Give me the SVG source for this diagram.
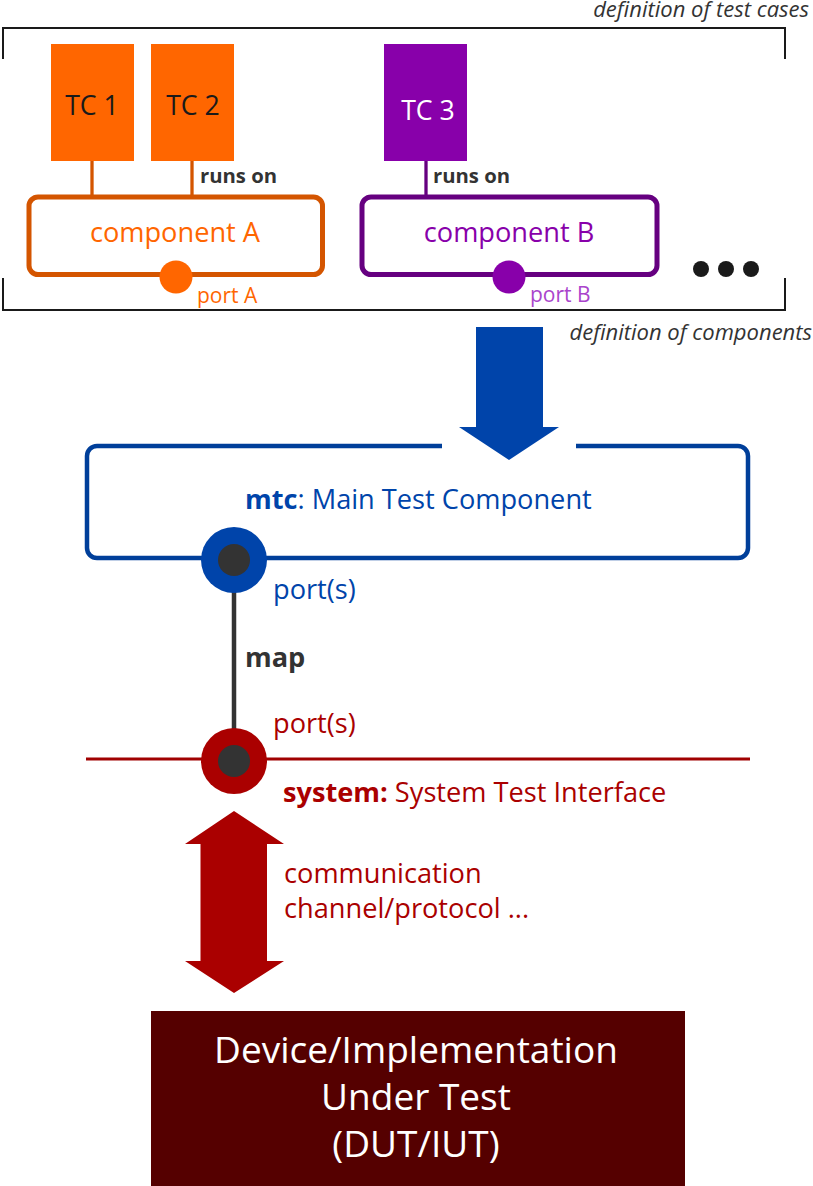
<svg xmlns="http://www.w3.org/2000/svg" width="813" height="1186" viewBox="0 0 813 1186">
<style>
text{font-family:"Open Sans","Noto Sans","DejaVu Sans",sans-serif}
.note{font-size:22px;font-style:italic;fill:#333;text-anchor:end}
.tc{font-size:26.7px;text-anchor:middle}
.lbl{font-size:27.2px}
.mid{text-anchor:middle}
.runs{font-size:20.3px;font-weight:bold;fill:#333}
.port{font-size:21px}
.b{font-weight:bold}
.bracket{fill:none;stroke:#1a1a1a;stroke-width:2}
</style>
<rect width="813" height="1186" fill="#fff"/>

<g id="brackets">
  <polyline class="bracket" points="3,59 3,28 785,28 785,59"/>
  <polyline class="bracket" points="3,278 3,310 785,310 785,278"/>
  <text class="note" x="809" y="17">definition of test cases</text>
  <text class="note" x="812" y="340">definition of components</text>
</g>

<g id="connectors">
  <line x1="92" y1="160" x2="92" y2="197" stroke="#d45500" stroke-width="3.3"/>
  <line x1="192" y1="160" x2="192" y2="197" stroke="#d45500" stroke-width="3.3"/>
  <line x1="426" y1="160" x2="426" y2="197" stroke="#660080" stroke-width="3.3"/>
  <text class="runs" x="200" y="183">runs on</text>
  <text class="runs" x="433" y="183">runs on</text>
  <polygon id="define-arrow" points="476,327 543,327 543,427 559,427 509,460 459,427 476,427" fill="#0044aa"/>
  <line x1="234" y1="560" x2="234" y2="761" stroke="#333" stroke-width="4.5"/>
  <text class="lbl b" x="245" y="667" fill="#333">map</text>
  <polygon id="comm-arrow" points="234,811 284,844 267,844 267,961 284,961 234,993 185,961 200.5,961 200.5,844 185,844" fill="#aa0000"/>
  <text class="lbl" x="284" y="883" fill="#aa0000">communication</text>
  <text class="lbl" x="284" y="918" fill="#aa0000">channel/protocol ...</text>
</g>

<g id="tc1">
  <rect x="51" y="44" width="83" height="117" fill="#ff6600"/>
  <text class="tc" x="92" y="115" fill="#1a1a1a">TC 1</text>
</g>
<g id="tc2">
  <rect x="151" y="44" width="83" height="117" fill="#ff6600"/>
  <text class="tc" x="193" y="115" fill="#1a1a1a">TC 2</text>
</g>
<g id="tc3">
  <rect x="384" y="44" width="83" height="117" fill="#8800aa"/>
  <text class="tc" x="428" y="120" fill="#fff">TC 3</text>
</g>

<g id="componentA">
  <rect x="29" y="197" width="293.5" height="77.5" rx="9" fill="#fff" stroke="#d45500" stroke-width="5"/>
  <text class="lbl mid" x="175" y="242" fill="#ff6600">component A</text>
  <circle cx="176" cy="277" r="16.5" fill="#ff6600"/>
  <text class="port" x="197" y="303" fill="#ff6600">port A</text>
</g>

<g id="componentB">
  <rect x="362" y="197" width="295" height="77.5" rx="9" fill="#fff" stroke="#660080" stroke-width="5"/>
  <text class="lbl mid" x="509" y="242" fill="#8800aa">component B</text>
  <circle cx="509" cy="277" r="16.5" fill="#8800aa"/>
  <text class="port" x="530" y="302" fill="#aa44cc">port B</text>
</g>

<g id="more">
  <circle cx="701" cy="269" r="8" fill="#1a1a1a"/>
  <circle cx="726" cy="269" r="8" fill="#1a1a1a"/>
  <circle cx="751" cy="269" r="8" fill="#1a1a1a"/>
</g>

<g id="mtc">
  <path d="M442,446 H97 A10,10 0 0 0 87,456 V548 A10,10 0 0 0 97,558 H738 A10,10 0 0 0 748,548 V456 A10,10 0 0 0 738,446 H576" fill="none" stroke="#003f9a" stroke-width="4.5"/>
  <text class="lbl" x="245" y="509" fill="#0044aa"><tspan class="b">mtc</tspan>: Main Test Component</text>
  <circle cx="234" cy="560" r="33" fill="#0044aa"/>
  <circle cx="234" cy="560" r="16" fill="#333"/>
  <text class="lbl" x="273" y="599" fill="#0044aa">port(s)</text>
</g>

<g id="system">
  <line x1="86" y1="759" x2="750" y2="759" stroke="#a00000" stroke-width="3"/>
  <circle cx="234" cy="761" r="33" fill="#aa0000"/>
  <circle cx="234" cy="761" r="16" fill="#333"/>
  <text class="lbl" x="273" y="733" fill="#aa0000">port(s)</text>
  <text class="lbl" x="283" y="802" fill="#aa0000"><tspan class="b">system:</tspan> System Test Interface</text>
</g>

<g id="dut">
  <rect x="151" y="1011" width="534" height="175" fill="#550000"/>
  <text class="mid" x="416" y="1063" font-size="37" fill="#fff">Device/Implementation</text>
  <text class="mid" x="416" y="1110" font-size="37" fill="#fff">Under Test</text>
  <text class="mid" x="416" y="1157" font-size="37" fill="#fff">(DUT/IUT)</text>
</g>
</svg>
